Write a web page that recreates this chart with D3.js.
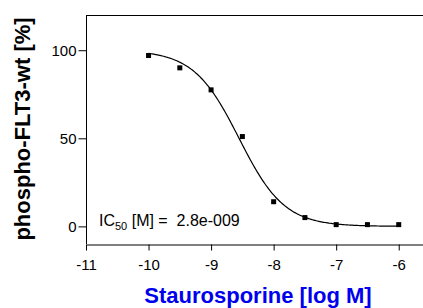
<!DOCTYPE html>
<html>
<head>
<meta charset="utf-8">
<script src="https://cdn.jsdelivr.net/npm/d3@7"></script>
<style>
  body { margin: 0; background: #fff; }
  text { font-family: "Liberation Sans", Arial, sans-serif; }
</style>
</head>
<body>
<svg width="423" height="308"></svg>
<script>
// measured points: log concentration vs % phospho-FLT3
const logConc = [-10, -9.5, -9, -8.5, -8, -7.5, -7, -6.5, -6];
const phospho = [97, 90, 77.5, 51, 14, 5, 1, 1, 1];
const xTicks = [-11, -10, -9, -8, -7, -6];
const yTicks = [0, 50, 100];

// fitted sigmoid parameters
const fitTop = 100, fitBottom = 0, fitHill = 1.2;
const ic50 = 2.8e-9;

const svg = d3.select("svg");
const plotL = 86, plotR = 430, plotT = 15, plotB = 244;

const x = d3.scaleLinear().domain([-11, -5.5]).range([plotL, plotR]);
const y = d3.scaleLinear().domain([-10, 120]).range([plotB, plotT]);

const g = svg.append("g");

// frame: left axis, top border
g.append("line").attr("x1", plotL).attr("x2", 423).attr("y1", plotT + 0.5).attr("y2", plotT + 0.5)
  .attr("stroke", "#000");

const yAxis = g.append("g").attr("transform", `translate(${plotL + 0.5},0)`)
  .call(d3.axisLeft(y).tickValues(yTicks).tickSize(8).tickSizeOuter(0));
const xAxis = g.append("g").attr("transform", `translate(0,${plotB + 0.5})`)
  .call(d3.axisBottom(x).tickValues(xTicks).tickSize(6).tickSizeOuter(0)
    .tickFormat(d => String(d)));

[yAxis, xAxis].forEach(a => {
  a.select(".domain").attr("stroke", "#000");
  a.selectAll("text").attr("font-size", 15).attr("fill", "#000")
    .attr("font-family", "Liberation Sans, Arial, sans-serif");
});
yAxis.select(".domain").attr("d", `M0,${plotT}V${plotB}`);
xAxis.selectAll("text").attr("y", 25).attr("dy", 0);
yAxis.selectAll("text").attr("x", -10).attr("dy", "0.36em");

// fitted curve
const logIC50 = Math.log10(ic50);
const curveX = d3.range(-10, -6.0001, 0.02).concat([-6]);
const line = d3.line()
  .x(d => x(d))
  .y(d => y(fitBottom + (fitTop - fitBottom) / (1 + Math.pow(10, fitHill * (d - logIC50)))));
g.append("path").datum(curveX).attr("d", line)
  .attr("fill", "none").attr("stroke", "#000").attr("stroke-width", 1.2);

// markers
g.selectAll("rect.pt").data(logConc).join("rect").attr("class", "pt")
  .attr("x", (d, i) => x(d) - 2.5)
  .attr("y", (d, i) => y(phospho[i]) - 2.5)
  .attr("width", 5).attr("height", 5).attr("fill", "#000");

// IC50 label
const t = g.append("text").attr("x", 99).attr("y", 225.5).attr("font-size", 16)
  .attr("fill", "#000").style("white-space", "pre");
t.append("tspan").text("IC");
t.append("tspan").attr("font-size", 11).attr("dy", 4).text("50");
t.append("tspan").attr("dy", -4).text(" [M] =  " + d3.format(".1e")(ic50).replace(/e-(\d)$/, "e-00$1"));

// axis titles
svg.append("text").attr("transform", "translate(30,129) rotate(-90)")
  .attr("text-anchor", "middle").attr("font-size", 22).attr("font-weight", "bold")
  .attr("fill", "#000").text("phospho-FLT3-wt [%]");
svg.append("text").attr("x", 258).attr("y", 303)
  .attr("text-anchor", "middle").attr("font-size", 22).attr("font-weight", "bold")
  .attr("fill", "#0000ee").text("Staurosporine [log M]");
</script>
</body>
</html>
